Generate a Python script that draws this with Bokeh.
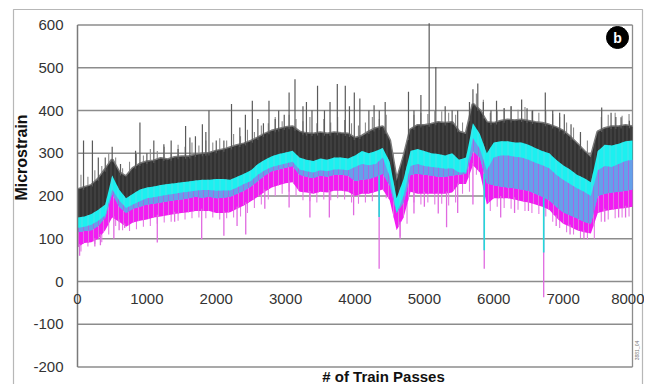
import numpy as np
from bokeh.plotting import figure
from bokeh.models import Range1d, LinearAxis, FixedTicker, Label, BoxAnnotation
from bokeh.embed import file_html
from bokeh.resources import INLINE

# ---------------- data ----------------
passes = list(range(0, 8001, 100))

black_hi = [215, 220, 225, 240, 262, 285, 255, 245, 265, 275,
            280, 282, 288, 285, 290, 292, 292, 296, 298, 300,
            305, 308, 313, 318, 322, 328, 336, 345, 352, 356,
            360, 362, 350, 346, 345, 348, 345, 348, 346, 345,
            335, 340, 350, 358, 362, 330, 235, 290, 355, 365,
            365, 368, 372, 370, 372, 350, 345, 415, 400, 372,
            370, 375, 378, 376, 378, 375, 372, 370, 366, 360,
            352, 338, 322, 305, 290, 350, 358, 362, 362, 365,
            362]

cyan_hi = [150, 152, 158, 168, 180, 248, 215, 195, 205, 215,
           220, 222, 226, 228, 230, 232, 234, 236, 238, 238,
           240, 240, 238, 245, 252, 260, 275, 285, 293, 298,
           302, 306, 290, 285, 282, 288, 285, 290, 290, 288,
           295, 305, 300, 305, 312, 280, 195, 240, 305, 310,
           305, 300, 298, 295, 300, 285, 290, 370, 345, 300,
           325, 328, 328, 325, 325, 320, 312, 305, 300, 285,
           272, 262, 250, 242, 232, 305, 320, 318, 322, 328,
           330]

cyan_lo = [115, 118, 120, 130, 150, 205, 175, 160, 170, 175,
           180, 182, 185, 188, 190, 192, 195, 198, 196, 198,
           195, 196, 198, 205, 212, 222, 235, 248, 258, 262,
           266, 270, 250, 245, 242, 248, 245, 250, 250, 248,
           235, 238, 240, 245, 252, 225, 160, 185, 250, 252,
           250, 248, 245, 245, 248, 250, 252, 305, 290, 230,
           225, 222, 220, 218, 215, 212, 205, 198, 190, 175,
           162, 155, 148, 140, 135, 200, 205, 208, 210, 212,
           215]

magenta_hi = [125, 128, 133, 142, 155, 215, 190, 172, 180, 188,
              195, 197, 200, 203, 205, 208, 210, 212, 214, 214,
              212, 213, 213, 220, 228, 235, 250, 260, 268, 272,
              276, 280, 262, 258, 255, 260, 258, 262, 262, 260,
              268, 275, 272, 275, 290, 245, 160, 200, 270, 275,
              270, 268, 266, 264, 265, 255, 255, 335, 310, 260,
              290, 295, 295, 292, 290, 285, 278, 272, 265, 250,
              238, 228, 218, 210, 200, 260, 270, 268, 275, 282,
              285]

magenta_lo = [80, 90, 92, 100, 120, 150, 140, 128, 138, 142,
              145, 150, 152, 155, 158, 160, 162, 165, 165, 165,
              160, 160, 162, 170, 178, 188, 198, 210, 220, 225,
              230, 232, 210, 208, 205, 210, 208, 212, 212, 210,
              200, 205, 205, 210, 215, 190, 120, 150, 210, 205,
              205, 205, 205, 205, 208, 228, 228, 272, 255, 180,
              195, 195, 195, 192, 188, 185, 180, 175, 168, 150,
              135, 128, 120, 115, 112, 160, 165, 168, 170, 172,
              175]

black_spike_x = [87, 215, 300, 400, 500, 620, 837, 900, 1000, 1100,
                 1245, 1350, 1450, 1558, 1620, 1700, 1800, 1850, 1895, 2000,
                 2110, 2220, 2340, 2420, 2520, 2600, 2680, 2760, 2850, 2900,
                 2980, 3050, 3135, 3250, 3300, 3380, 3460, 3560, 3640, 3745,
                 3860, 3920, 3990, 4070, 4200, 4275, 4350, 4435, 4771, 4850,
                 4950, 5069, 5165, 5300, 5400, 5480, 5650, 5700, 5770, 5850,
                 5960, 6040, 6150, 6250, 6402, 6480, 6560, 6743, 6850, 6950,
                 7017, 7114, 7250, 7556, 7691, 7760, 7835, 7955]
black_spike_top = [330, 330, 290, 290, 315, 275, 306, 372, 300, 330,
                   321, 330, 310, 364, 337, 340, 368, 350, 400, 330,
                   330, 415, 360, 390, 423, 380, 370, 423, 380, 400,
                   390, 442, 473, 410, 420, 400, 458, 400, 420, 462,
                   458, 410, 442, 428, 400, 412, 400, 420, 444, 400,
                   436, 604, 502, 410, 400, 400, 420, 450, 463, 420,
                   400, 423, 405, 410, 426, 405, 400, 442, 400, 395,
                   391, 368, 350, 407, 395, 385, 384, 376]

# smaller grey spikes between the 100-pass readings
minor_x = list(range(50, 8000, 100))
black_minor_top = [250, 245, 260, 270, 300, 290, 265, 280, 300, 295,
                   310, 305, 315, 300, 320, 315, 325, 318, 330, 325,
                   335, 330, 345, 340, 355, 350, 365, 370, 385, 375,
                   390, 380, 375, 385, 370, 380, 372, 385, 378, 370,
                   365, 372, 385, 380, 390, 300, 258, 330, 390, 395,
                   392, 400, 398, 395, 390, 372, 400, 440, 425, 395,
                   400, 405, 410, 402, 408, 400, 395, 400, 392, 385,
                   372, 360, 345, 330, 318, 385, 390, 395, 388, 392]
magenta_minor_bottom = [70, 82, 88, 92, 110, 130, 120, 118, 122, 128,
                        130, 135, 138, 140, 142, 145, 148, 150, 148, 150,
                        145, 148, 150, 152, 160, 172, 180, 192, 200, 205,
                        210, 200, 190, 188, 185, 192, 190, 195, 192, 185,
                        182, 185, 188, 190, 195, 160, 105, 135, 185, 180,
                        185, 180, 182, 178, 185, 205, 210, 250, 220, 165,
                        175, 172, 170, 168, 165, 160, 158, 152, 140, 125,
                        115, 110, 102, 98, 100, 140, 145, 148, 150, 152]

magenta_spike_x = [30, 250, 330, 524, 600, 680, 1150, 1400, 1790, 2110,
                   2300, 2425, 2700, 3050, 3350, 3630, 3980, 4348, 4650, 4850,
                   5000, 5200, 5320, 5480, 5700, 5863, 6100, 6300, 6500, 6720,
                   6900, 7100, 7300, 7600, 7800, 7900]
magenta_spike_bottom = [60, 82, 85, 100, 120, 125, 91, 140, 99, 107,
                        130, 110, 170, 173, 150, 150, 155, 30, 100, 159,
                        175, 159, 127, 160, 180, 30, 150, 160, 165, -37,
                        130, 110, 100, 140, 150, 150]

cyan_spike_x = [4348, 5863, 6720]
cyan_spike_bottom = [151, 73, 68]

y_ticks = [-200, -100, 0, 100, 200, 300, 400, 500, 600]
y_tick_labels = ["-200", "-100", "0", "100", "200", "300", "400", "500", "600"]
x_ticks = [0, 1000, 2000, 3000, 4000, 5000, 6000, 7000, 8000]

# ---------------- layout: the Bokeh frame covers the whole canvas ----------------
W, H, PAGE = 644, 384, 0
PX0, PX1 = 77.0, 632.0      # page pixel of x = 0 and x = 8000
PY0, PY1 = 281.0, 24.5      # page pixel of y = 0 and y = 600
sxp = (PX1 - PX0) / (x_ticks[-1] - x_ticks[0])
syp = (PY0 - PY1) / (y_ticks[-1] - 0)
xr = Range1d(x_ticks[0] - (PX0 - PAGE) / sxp, x_ticks[-1] + (PAGE + W - PX1) / sxp)
yr = Range1d(0 - (PAGE + H - PY0) / syp, y_ticks[-1] + (PY1 - PAGE) / syp)


def px_to_x(px):
    return (px - PX0) / sxp


def py_to_y(py):
    return (PY0 - py) / syp


FONT = "Liberation Sans"
p = figure(width=W, height=H, output_backend="svg", toolbar_location=None,
           x_range=xr, y_range=yr, x_axis_location=None, y_axis_location=None,
           min_border=0, min_border_left=0, min_border_right=0,
           min_border_top=0, min_border_bottom=0)
p.outline_line_color = None
p.xgrid.visible = False
p.ygrid.visible = False
p.background_fill_color = "#ffffff"

# outer black frame of the figure
p.add_layout(BoxAnnotation(left=px_to_x(13), right=px_to_x(642), top=py_to_y(9),
                           fill_color=None, line_color="#111111", line_width=1.2))

# grid lines and right edge of the plot area
p.segment(x0=[x_ticks[0]] * len(y_ticks), x1=[x_ticks[-1]] * len(y_ticks),
          y0=y_ticks, y1=y_ticks, line_color="#8c8c8c", line_width=1.3)
p.segment(x0=[x_ticks[-1]], x1=[x_ticks[-1]], y0=[y_ticks[0]], y1=[y_ticks[-1]],
          line_color="#8c8c8c", line_width=1.3)

yaxis = LinearAxis(ticker=FixedTicker(ticks=y_ticks), fixed_location=0)
yaxis.axis_line_color = None
yaxis.major_tick_line_color = None
yaxis.minor_tick_line_color = None
yaxis.major_label_standoff = 8
yaxis.major_label_overrides = dict(zip(y_ticks, y_tick_labels))
yaxis.major_label_text_font = FONT
yaxis.major_label_text_font_size = "15px"
yaxis.major_label_text_color = "#333333"
p.add_layout(yaxis, "left")

xaxis = LinearAxis(ticker=FixedTicker(ticks=x_ticks), fixed_location=0)
xaxis.axis_line_color = None
xaxis.major_tick_line_color = None
xaxis.minor_tick_line_color = None
xaxis.major_label_standoff = 6
xaxis.major_label_text_font = FONT
xaxis.major_label_text_font_size = "15px"
xaxis.major_label_text_color = "#333333"
p.add_layout(xaxis, "below")

# ---------------- series ----------------
bx = np.array(black_spike_x)
mnx = np.array(minor_x)
p.segment(x0=mnx, y0=np.interp(mnx, passes, black_hi) - 5, x1=mnx, y1=black_minor_top,
          line_color="#8a8a8a", line_width=1.1)
p.line(passes, black_hi, line_color="#7a7a7a", line_width=3)
p.varea(x=passes, y1=cyan_lo, y2=black_hi, fill_color="#323232",
        hatch_pattern="|", hatch_color="#4c4c4c", hatch_scale=4, hatch_weight=1)
p.segment(x0=bx, y0=np.interp(bx, passes, black_hi) - 5, x1=bx, y1=black_spike_top,
          line_color="#5a5a5a", line_width=1.2)

mx = np.array(magenta_spike_x)
p.segment(x0=mnx, y0=np.interp(mnx, passes, magenta_lo) + 5, x1=mnx, y1=magenta_minor_bottom,
          line_color="#e47ae4", line_width=1.1)
p.varea(x=passes, y1=magenta_lo, y2=magenta_hi, fill_color="#f21cf2",
        hatch_pattern="|", hatch_color="#e070e0", hatch_scale=5, hatch_weight=1)
p.segment(x0=mx, y0=np.interp(mx, passes, magenta_lo) + 5, x1=mx, y1=magenta_spike_bottom,
          line_color="#e06ae0", line_width=1.3)

p.varea(x=passes, y1=cyan_lo, y2=cyan_hi, fill_color="#1cf0f0",
        hatch_pattern="|", hatch_color="#4fe0e8", hatch_scale=6, hatch_weight=1)
p.varea(x=passes, y1=cyan_lo, y2=np.maximum(np.array(cyan_lo), np.array(magenta_hi)),
        fill_color="#7c86e8", fill_alpha=0.75,
        hatch_pattern="|", hatch_color="#d040e0", hatch_alpha=0.55, hatch_scale=5, hatch_weight=1)
cx = np.array(cyan_spike_x)
p.segment(x0=cx, y0=np.interp(cx, passes, cyan_lo), x1=cx, y1=cyan_spike_bottom,
          line_color="#22d8d8", line_width=1.6)

# y-axis line on top of the data
p.segment(x0=[x_ticks[0]], x1=[x_ticks[0]], y0=[y_ticks[0]], y1=[y_ticks[-1]],
          line_color="#7a7a7a", line_width=1.5)

# ---------------- annotations ----------------
p.add_layout(Label(x=px_to_x(21), y=py_to_y(157), text="Microstrain", angle=np.pi / 2,
                   text_align="center", text_baseline="middle",
                   text_font=FONT, text_font_style="bold", text_font_size="16px",
                   text_color="#111111"))
p.add_layout(Label(x=px_to_x(383), y=py_to_y(376), text="# of Train Passes",
                   text_align="center", text_baseline="middle",
                   text_font=FONT, text_font_style="bold", text_font_size="15px",
                   text_color="#111111"))
p.scatter(x=[px_to_x(617)], y=[py_to_y(37)], size=22, fill_color="#000000",
          line_color="#000000")
p.add_layout(Label(x=px_to_x(617), y=py_to_y(37), text="b", text_align="center",
                   text_baseline="middle", text_font=FONT, text_font_style="bold",
                   text_font_size="14px", text_color="#ffffff"))
p.add_layout(Label(x=px_to_x(636), y=py_to_y(350), text="3881_04", angle=np.pi / 2,
                   text_align="center", text_baseline="middle",
                   text_font=FONT, text_font_size="5px", text_color="#777777"))

open("out.html", "w").write(file_html(p, INLINE))
